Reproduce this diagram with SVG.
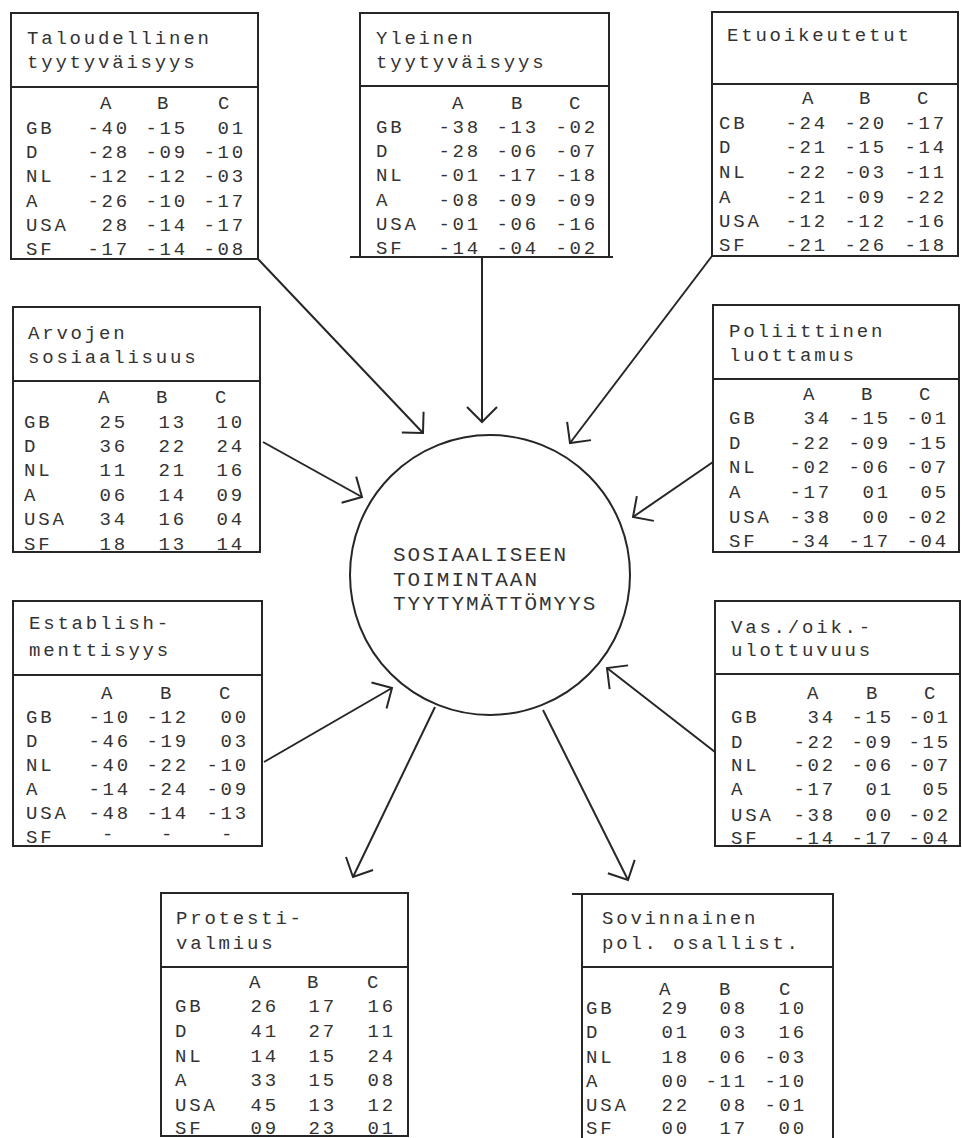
<svg xmlns="http://www.w3.org/2000/svg" width="962" height="1138" viewBox="0 0 962 1138" xml:space="preserve">
<style>
.bx{fill:none;stroke:#262626;stroke-width:2}
.t{font-family:"Liberation Mono","DejaVu Sans Mono",monospace;font-size:19px;letter-spacing:2.8px;fill:#333}
.e{text-anchor:end}
.m{text-anchor:middle}
.c{font-family:"Liberation Mono","DejaVu Sans Mono",monospace;font-size:21px;letter-spacing:2px;fill:#333}
.cn{fill:none;stroke:#262626;stroke-width:2}
</style>
<defs>
<marker id="ah" markerUnits="userSpaceOnUse" markerWidth="40" markerHeight="40" refX="0" refY="0" orient="auto" overflow="visible" viewBox="-20 -20 40 40">
<path d="M-15,-15 L0,0 L-15,15" fill="none" stroke="#262626" stroke-width="2"/>
</marker>
</defs>
<rect width="962" height="1138" fill="#fff"/>

<g id="n-taloudellinen">
<rect class="bx" x="11" y="13" width="247" height="246"/>
<line class="bx" x1="11" y1="87" x2="258" y2="87"/>
<text class="t" x="27" y="44">Taloudellinen</text>
<text class="t" x="27" y="68">tyytyväisyys</text>
<text class="t m"><tspan x="107" y="109">A</tspan><tspan x="164" y="109">B</tspan><tspan x="225" y="109">C</tspan></text>
<text class="t"><tspan x="26" y="134">GB</tspan><tspan x="26" y="158">D</tspan><tspan x="26" y="182">NL</tspan><tspan x="26" y="207">A</tspan><tspan x="26" y="231">USA</tspan><tspan x="26" y="255">SF</tspan></text>
<text class="t e"><tspan x="130" y="134">-40</tspan><tspan x="130" y="158">-28</tspan><tspan x="130" y="182">-12</tspan><tspan x="130" y="207">-26</tspan><tspan x="130" y="231">28</tspan><tspan x="130" y="255">-17</tspan></text>
<text class="t e"><tspan x="188" y="134">-15</tspan><tspan x="188" y="158">-09</tspan><tspan x="188" y="182">-12</tspan><tspan x="188" y="207">-10</tspan><tspan x="188" y="231">-14</tspan><tspan x="188" y="255">-14</tspan></text>
<text class="t e"><tspan x="246" y="134">01</tspan><tspan x="246" y="158">-10</tspan><tspan x="246" y="182">-03</tspan><tspan x="246" y="207">-17</tspan><tspan x="246" y="231">-17</tspan><tspan x="246" y="255">-08</tspan></text>
</g>

<g id="n-yleinen">
<rect class="bx" x="360" y="13" width="249" height="244"/>
<line class="bx" x1="360" y1="86" x2="609" y2="86"/>
<line class="bx" x1="350" y1="257" x2="613" y2="257"/>
<text class="t" x="376" y="44">Yleinen</text>
<text class="t" x="376" y="68">tyytyväisyys</text>
<text class="t m"><tspan x="459" y="109">A</tspan><tspan x="518" y="109">B</tspan><tspan x="576" y="109">C</tspan></text>
<text class="t"><tspan x="376" y="133">GB</tspan><tspan x="376" y="157">D</tspan><tspan x="376" y="181">NL</tspan><tspan x="376" y="206">A</tspan><tspan x="376" y="230">USA</tspan><tspan x="376" y="254">SF</tspan></text>
<text class="t e"><tspan x="481" y="133">-38</tspan><tspan x="481" y="157">-28</tspan><tspan x="481" y="181">-01</tspan><tspan x="481" y="206">-08</tspan><tspan x="481" y="230">-01</tspan><tspan x="481" y="254">-14</tspan></text>
<text class="t e"><tspan x="539" y="133">-13</tspan><tspan x="539" y="157">-06</tspan><tspan x="539" y="181">-17</tspan><tspan x="539" y="206">-09</tspan><tspan x="539" y="230">-06</tspan><tspan x="539" y="254">-04</tspan></text>
<text class="t e"><tspan x="598" y="133">-02</tspan><tspan x="598" y="157">-07</tspan><tspan x="598" y="181">-18</tspan><tspan x="598" y="206">-09</tspan><tspan x="598" y="230">-16</tspan><tspan x="598" y="254">-02</tspan></text>
</g>

<g id="n-etuoikeutetut">
<rect class="bx" x="712" y="12" width="246" height="244"/>
<line class="bx" x1="712" y1="84" x2="958" y2="84"/>
<text class="t" x="727" y="41">Etuoikeutetut</text>
<text class="t m"><tspan x="809" y="104">A</tspan><tspan x="866" y="104">B</tspan><tspan x="924" y="104">C</tspan></text>
<text class="t"><tspan x="719" y="129">CB</tspan><tspan x="719" y="153">D</tspan><tspan x="719" y="178">NL</tspan><tspan x="719" y="203">A</tspan><tspan x="719" y="227">USA</tspan><tspan x="719" y="251">SF</tspan></text>
<text class="t e"><tspan x="828" y="129">-24</tspan><tspan x="828" y="153">-21</tspan><tspan x="828" y="178">-22</tspan><tspan x="828" y="203">-21</tspan><tspan x="828" y="227">-12</tspan><tspan x="828" y="251">-21</tspan></text>
<text class="t e"><tspan x="887" y="129">-20</tspan><tspan x="887" y="153">-15</tspan><tspan x="887" y="178">-03</tspan><tspan x="887" y="203">-09</tspan><tspan x="887" y="227">-12</tspan><tspan x="887" y="251">-26</tspan></text>
<text class="t e"><tspan x="947" y="129">-17</tspan><tspan x="947" y="153">-14</tspan><tspan x="947" y="178">-11</tspan><tspan x="947" y="203">-22</tspan><tspan x="947" y="227">-16</tspan><tspan x="947" y="251">-18</tspan></text>
</g>

<g id="n-arvojen">
<rect class="bx" x="13" y="307" width="247" height="245"/>
<line class="bx" x1="13" y1="381" x2="260" y2="381"/>
<text class="t" x="28" y="339">Arvojen</text>
<text class="t" x="28" y="363">sosiaalisuus</text>
<text class="t m"><tspan x="105" y="403">A</tspan><tspan x="163" y="403">B</tspan><tspan x="222" y="403">C</tspan></text>
<text class="t"><tspan x="24" y="428">GB</tspan><tspan x="24" y="452">D</tspan><tspan x="24" y="476">NL</tspan><tspan x="24" y="501">A</tspan><tspan x="24" y="525">USA</tspan><tspan x="24" y="550">SF</tspan></text>
<text class="t e"><tspan x="128" y="428">25</tspan><tspan x="128" y="452">36</tspan><tspan x="128" y="476">11</tspan><tspan x="128" y="501">06</tspan><tspan x="128" y="525">34</tspan><tspan x="128" y="550">18</tspan></text>
<text class="t e"><tspan x="187" y="428">13</tspan><tspan x="187" y="452">22</tspan><tspan x="187" y="476">21</tspan><tspan x="187" y="501">14</tspan><tspan x="187" y="525">16</tspan><tspan x="187" y="550">13</tspan></text>
<text class="t e"><tspan x="245" y="428">10</tspan><tspan x="245" y="452">24</tspan><tspan x="245" y="476">16</tspan><tspan x="245" y="501">09</tspan><tspan x="245" y="525">04</tspan><tspan x="245" y="550">14</tspan></text>
</g>

<g id="n-poliittinen">
<rect class="bx" x="713" y="305" width="246" height="247"/>
<line class="bx" x1="713" y1="379" x2="959" y2="379"/>
<text class="t" x="729" y="337">Poliittinen</text>
<text class="t" x="729" y="361">luottamus</text>
<text class="t m"><tspan x="810" y="400">A</tspan><tspan x="868" y="400">B</tspan><tspan x="926" y="400">C</tspan></text>
<text class="t"><tspan x="729" y="424">GB</tspan><tspan x="729" y="449">D</tspan><tspan x="729" y="473">NL</tspan><tspan x="729" y="498">A</tspan><tspan x="729" y="523">USA</tspan><tspan x="729" y="547">SF</tspan></text>
<text class="t e"><tspan x="832" y="424">34</tspan><tspan x="832" y="449">-22</tspan><tspan x="832" y="473">-02</tspan><tspan x="832" y="498">-17</tspan><tspan x="832" y="523">-38</tspan><tspan x="832" y="547">-34</tspan></text>
<text class="t e"><tspan x="891" y="424">-15</tspan><tspan x="891" y="449">-09</tspan><tspan x="891" y="473">-06</tspan><tspan x="891" y="498">01</tspan><tspan x="891" y="523">00</tspan><tspan x="891" y="547">-17</tspan></text>
<text class="t e"><tspan x="949" y="424">-01</tspan><tspan x="949" y="449">-15</tspan><tspan x="949" y="473">-07</tspan><tspan x="949" y="498">05</tspan><tspan x="949" y="523">-02</tspan><tspan x="949" y="547">-04</tspan></text>
</g>

<g id="n-establish">
<rect class="bx" x="13" y="601" width="249" height="245"/>
<line class="bx" x1="13" y1="675" x2="262" y2="675"/>
<text class="t" x="29" y="629">Establish-</text>
<text class="t" x="29" y="656">menttisyys</text>
<text class="t m"><tspan x="108" y="699">A</tspan><tspan x="167" y="699">B</tspan><tspan x="226" y="699">C</tspan></text>
<text class="t"><tspan x="26" y="723">GB</tspan><tspan x="26" y="747">D</tspan><tspan x="26" y="771">NL</tspan><tspan x="26" y="795">A</tspan><tspan x="26" y="819">USA</tspan><tspan x="26" y="843">SF</tspan></text>
<text class="t e"><tspan x="131" y="723">-10</tspan><tspan x="131" y="747">-46</tspan><tspan x="131" y="771">-40</tspan><tspan x="131" y="795">-14</tspan><tspan x="131" y="819">-48</tspan></text>
<text class="t e"><tspan x="189" y="723">-12</tspan><tspan x="189" y="747">-19</tspan><tspan x="189" y="771">-22</tspan><tspan x="189" y="795">-24</tspan><tspan x="189" y="819">-14</tspan></text>
<text class="t e"><tspan x="249" y="723">00</tspan><tspan x="249" y="747">03</tspan><tspan x="249" y="771">-10</tspan><tspan x="249" y="795">-09</tspan><tspan x="249" y="819">-13</tspan></text>
<text class="t m"><tspan x="109" y="840">-</tspan><tspan x="168" y="840">-</tspan><tspan x="228" y="840">-</tspan></text>
</g>

<g id="n-vasoik">
<rect class="bx" x="715" y="601" width="245" height="245"/>
<line class="bx" x1="715" y1="674" x2="960" y2="674"/>
<text class="t" x="731" y="633">Vas./oik.-</text>
<text class="t" x="731" y="656">ulottuvuus</text>
<text class="t m"><tspan x="814" y="699">A</tspan><tspan x="873" y="699">B</tspan><tspan x="931" y="699">C</tspan></text>
<text class="t"><tspan x="731" y="723">GB</tspan><tspan x="731" y="748">D</tspan><tspan x="731" y="771">NL</tspan><tspan x="731" y="795">A</tspan><tspan x="731" y="821">USA</tspan><tspan x="731" y="844">SF</tspan></text>
<text class="t e"><tspan x="836" y="723">34</tspan><tspan x="836" y="748">-22</tspan><tspan x="836" y="771">-02</tspan><tspan x="836" y="795">-17</tspan><tspan x="836" y="821">-38</tspan><tspan x="836" y="844">-14</tspan></text>
<text class="t e"><tspan x="894" y="723">-15</tspan><tspan x="894" y="748">-09</tspan><tspan x="894" y="771">-06</tspan><tspan x="894" y="795">01</tspan><tspan x="894" y="821">00</tspan><tspan x="894" y="844">-17</tspan></text>
<text class="t e"><tspan x="951" y="723">-01</tspan><tspan x="951" y="748">-15</tspan><tspan x="951" y="771">-07</tspan><tspan x="951" y="795">05</tspan><tspan x="951" y="821">-02</tspan><tspan x="951" y="844">-04</tspan></text>
</g>

<g id="n-protesti">
<rect class="bx" x="161" y="893" width="247" height="243"/>
<line class="bx" x1="161" y1="967" x2="408" y2="967"/>
<text class="t" x="176" y="924">Protesti-</text>
<text class="t" x="176" y="949">valmius</text>
<text class="t m"><tspan x="256" y="988">A</tspan><tspan x="314" y="988">B</tspan><tspan x="374" y="988">C</tspan></text>
<text class="t"><tspan x="175" y="1012">GB</tspan><tspan x="175" y="1037">D</tspan><tspan x="175" y="1062">NL</tspan><tspan x="175" y="1086">A</tspan><tspan x="175" y="1111">USA</tspan><tspan x="175" y="1134">SF</tspan></text>
<text class="t e"><tspan x="279" y="1012">26</tspan><tspan x="279" y="1037">41</tspan><tspan x="279" y="1062">14</tspan><tspan x="279" y="1086">33</tspan><tspan x="279" y="1111">45</tspan><tspan x="279" y="1134">09</tspan></text>
<text class="t e"><tspan x="337" y="1012">17</tspan><tspan x="337" y="1037">27</tspan><tspan x="337" y="1062">15</tspan><tspan x="337" y="1086">15</tspan><tspan x="337" y="1111">13</tspan><tspan x="337" y="1134">23</tspan></text>
<text class="t e"><tspan x="396" y="1012">16</tspan><tspan x="396" y="1037">11</tspan><tspan x="396" y="1062">24</tspan><tspan x="396" y="1086">08</tspan><tspan x="396" y="1111">12</tspan><tspan x="396" y="1134">01</tspan></text>
</g>

<g id="n-sovinnainen">
<path class="bx" d="M582,1140 V894 H833 V1140 M572,894 H582"/>
<line class="bx" x1="582" y1="967" x2="833" y2="967"/>
<text class="t" x="602" y="924">Sovinnainen</text>
<text class="t" x="602" y="949">pol. osallist.</text>
<text class="t m"><tspan x="666" y="995">A</tspan><tspan x="726" y="995">B</tspan><tspan x="786" y="995">C</tspan></text>
<text class="t"><tspan x="586" y="1014">GB</tspan><tspan x="586" y="1038">D</tspan><tspan x="586" y="1063">NL</tspan><tspan x="586" y="1087">A</tspan><tspan x="586" y="1111">USA</tspan><tspan x="586" y="1134">SF</tspan></text>
<text class="t e"><tspan x="690" y="1014">29</tspan><tspan x="690" y="1038">01</tspan><tspan x="690" y="1063">18</tspan><tspan x="690" y="1087">00</tspan><tspan x="690" y="1111">22</tspan><tspan x="690" y="1134">00</tspan></text>
<text class="t e"><tspan x="748" y="1014">08</tspan><tspan x="748" y="1038">03</tspan><tspan x="748" y="1063">06</tspan><tspan x="748" y="1087">-11</tspan><tspan x="748" y="1111">08</tspan><tspan x="748" y="1134">17</tspan></text>
<text class="t e"><tspan x="807" y="1014">10</tspan><tspan x="807" y="1038">16</tspan><tspan x="807" y="1063">-03</tspan><tspan x="807" y="1087">-10</tspan><tspan x="807" y="1111">-01</tspan><tspan x="807" y="1134">00</tspan></text>
</g>

<g id="n-center">
<circle class="bx" cx="490" cy="575" r="140"/>
<text class="c" x="393" y="561">SOSIAALISEEN</text>
<text class="c" x="393" y="586">TOIMINTAAN</text>
<text class="c" x="393" y="610">TYYTYMÄTTÖMYYS</text>
</g>

<g id="connectors">
<line class="cn" x1="258" y1="259" x2="423" y2="433" marker-end="url(#ah)"/>
<line class="cn" x1="482" y1="257" x2="482" y2="422" marker-end="url(#ah)"/>
<line class="cn" x1="712" y1="256" x2="570" y2="443" marker-end="url(#ah)"/>
<line class="cn" x1="263" y1="442" x2="362" y2="497" marker-end="url(#ah)"/>
<line class="cn" x1="713" y1="462" x2="633" y2="517" marker-end="url(#ah)"/>
<line class="cn" x1="264" y1="762" x2="392" y2="688" marker-end="url(#ah)"/>
<line class="cn" x1="715" y1="752" x2="607" y2="668" marker-end="url(#ah)"/>
<line class="cn" x1="435" y1="707" x2="353" y2="877" marker-end="url(#ah)"/>
<line class="cn" x1="543" y1="710" x2="628" y2="880" marker-end="url(#ah)"/>
</g>
</svg>
